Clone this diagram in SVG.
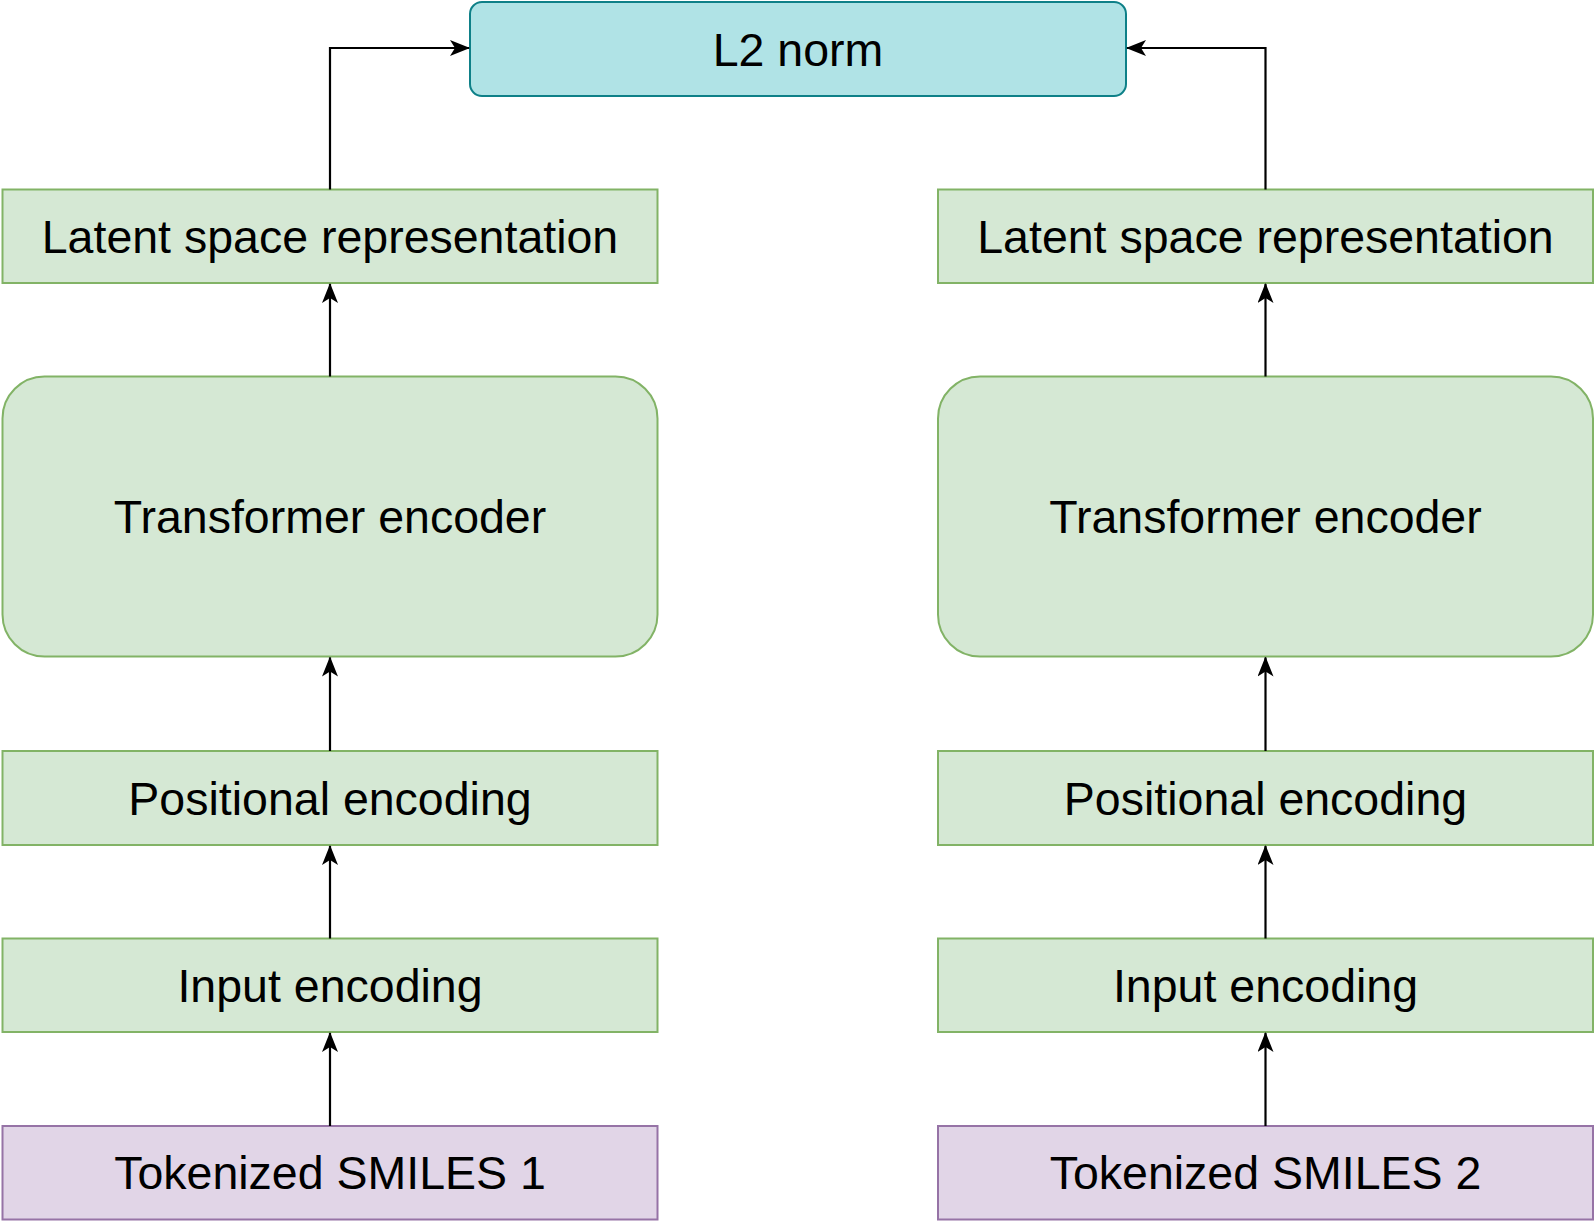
<svg xmlns="http://www.w3.org/2000/svg" width="1596" height="1222" viewBox="0 0 1596 1222">
<style>
.g{fill:#d5e8d4;stroke:#82b366;stroke-width:2}
.p{fill:#e1d5e7;stroke:#9673a6;stroke-width:2}
.c{fill:#b0e3e6;stroke:#0e8088;stroke-width:2}
text{font-family:"Liberation Sans",Arial,sans-serif;font-size:46.5px;fill:#000;text-anchor:middle}
.e{fill:none;stroke:#000;stroke-width:2.2}
</style>
<defs>
<marker id="a" viewBox="0 0 20 16" refX="19" refY="8" markerWidth="20" markerHeight="16" markerUnits="userSpaceOnUse" orient="auto">
<path d="M0,0 L20,8 L0,16 L5,8 Z" fill="#000"/>
</marker>
</defs>
<rect width="1596" height="1222" fill="#fff"/>
<g id="l2norm"><rect class="c" x="470" y="2" width="656" height="94" rx="12"/><text x="798" y="66">L2 norm</text></g>
<g id="latent1"><rect class="g" x="2.5" y="189.5" width="655" height="93.5"/><text x="330" y="253">Latent space representation</text></g>
<g id="latent2"><rect class="g" x="938" y="189.5" width="655" height="93.5"/><text x="1265.5" y="253">Latent space representation</text></g>
<g id="transformer1"><rect class="g" x="2.5" y="376.5" width="655" height="280" rx="42"/><text x="330" y="533">Transformer encoder</text></g>
<g id="transformer2"><rect class="g" x="938" y="376.5" width="655" height="280" rx="42"/><text x="1265.5" y="533">Transformer encoder</text></g>
<g id="positional1"><rect class="g" x="2.5" y="751" width="655" height="94"/><text x="330" y="815">Positional encoding</text></g>
<g id="positional2"><rect class="g" x="938" y="751" width="655" height="94"/><text x="1265.5" y="815">Positional encoding</text></g>
<g id="input1"><rect class="g" x="2.5" y="938.5" width="655" height="93.5"/><text x="330" y="1002">Input encoding</text></g>
<g id="input2"><rect class="g" x="938" y="938.5" width="655" height="93.5"/><text x="1265.5" y="1002">Input encoding</text></g>
<g id="tokenized1"><rect class="p" x="2.5" y="1126" width="655" height="93.5"/><text x="330" y="1189">Tokenized SMILES 1</text></g>
<g id="tokenized2"><rect class="p" x="938" y="1126" width="655" height="93.5"/><text x="1265.5" y="1189">Tokenized SMILES 2</text></g>
<g id="connectors">
<path class="e" marker-end="url(#a)" d="M330,1126 V1033"/>
<path class="e" marker-end="url(#a)" d="M330,938.5 V846"/>
<path class="e" marker-end="url(#a)" d="M330,751 V657.5"/>
<path class="e" marker-end="url(#a)" d="M330,376.5 V284"/>
<path class="e" marker-end="url(#a)" d="M330,189.5 V48 H469"/>
<path class="e" marker-end="url(#a)" d="M1265.5,1126 V1033"/>
<path class="e" marker-end="url(#a)" d="M1265.5,938.5 V846"/>
<path class="e" marker-end="url(#a)" d="M1265.5,751 V657.5"/>
<path class="e" marker-end="url(#a)" d="M1265.5,376.5 V284"/>
<path class="e" marker-end="url(#a)" d="M1265.5,189.5 V48 H1127"/>
</g>
</svg>
